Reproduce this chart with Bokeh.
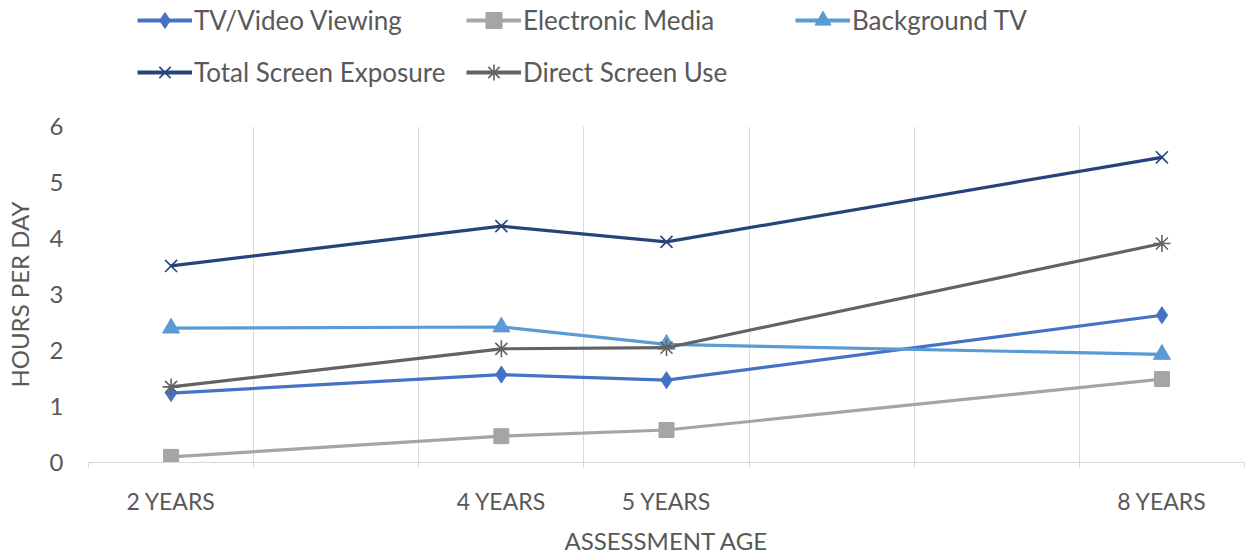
from bokeh.plotting import figure
from bokeh.models import (LinearAxis, FixedTicker, Grid, Legend, LegendItem, Range1d)
from bokeh.layouts import column
from bokeh.embed import file_html
from bokeh.resources import INLINE

# ---- data ----
ages = [2, 4, 5, 8]
age_labels = ["2 YEARS", "4 YEARS", "5 YEARS", "8 YEARS"]
tv_video = [1.24, 1.57, 1.47, 2.63]
electronic_media = [0.10, 0.47, 0.58, 1.49]
background_tv = [2.40, 2.42, 2.11, 1.93]
total_screen = [3.51, 4.22, 3.94, 5.45]
direct_screen = [1.35, 2.03, 2.05, 3.91]
y_ticks = [0, 1, 2, 3, 4, 5, 6]
grid_ticks = [1.5, 2.5, 3.5, 4.5, 5.5, 6.5, 7.5, 8.5]

series = [
    ("TV/Video Viewing", tv_video, "#4472C4", "diamond", 17, 1),
    ("Electronic Media", electronic_media, "#A5A5A5", "square", 15, 1),
    ("Background TV", background_tv, "#5B9BD5", "triangle", 17, 1),
    ("Total Screen Exposure", total_screen, "#264478", "x", 17, 1.6),
    ("Direct Screen Use", direct_screen, "#636363", "asterisk", 17, 1.6),
]

FONT = "Lato"
TXT = "#595959"
W = 1246
LEG_H = 110
MAIN_H = 557 - LEG_H
FRAME_LEFT = 88

# ---------------- main chart ----------------
p = figure(width=W, height=MAIN_H, output_backend="svg", toolbar_location=None,
           x_axis_type=None, y_axis_type=None,
           x_range=Range1d(1.5, 8.5), y_range=Range1d(0, 6),
           min_border_left=FRAME_LEFT, min_border_right=2, min_border_top=16,
           min_border_bottom=60)
p.outline_line_color = None
p.background_fill_color = "white"
p.border_fill_color = "white"

p.add_layout(Grid(dimension=0, ticker=FixedTicker(ticks=grid_ticks),
                  grid_line_color="#D9D9D9", grid_line_width=1))

ax1 = LinearAxis(ticker=FixedTicker(ticks=grid_ticks),
                 major_label_overrides={t: "" for t in grid_ticks},
                 major_label_text_font_size="0px", major_label_standoff=0,
                 axis_line_color="#D9D9D9", major_tick_line_color="#D9D9D9",
                 major_tick_out=5, major_tick_in=0, minor_tick_line_color=None)
p.add_layout(ax1, "below")

ax2 = LinearAxis(ticker=FixedTicker(ticks=ages),
                 major_label_overrides={a: l for a, l in zip(ages, age_labels)},
                 major_label_text_font=FONT, major_label_text_font_size="23px",
                 major_label_text_color=TXT, major_label_standoff=19,
                 axis_line_color=None, major_tick_line_color=None,
                 major_tick_out=0, major_tick_in=0,
                 minor_tick_line_color=None,
                 axis_label="ASSESSMENT AGE", axis_label_text_font=FONT,
                 axis_label_text_font_size="24px", axis_label_text_color=TXT,
                 axis_label_text_font_style="normal", axis_label_standoff=8)
p.add_layout(ax2, "below")

ay = LinearAxis(ticker=FixedTicker(ticks=y_ticks),
                major_label_text_font=FONT, major_label_text_font_size="24px",
                major_label_text_color=TXT, major_label_standoff=25,
                axis_line_color=None, major_tick_line_color=None,
                major_tick_out=0, major_tick_in=0,
                minor_tick_line_color=None,
                axis_label="HOURS PER DAY", axis_label_text_font=FONT,
                axis_label_text_font_size="24px", axis_label_text_color=TXT,
                axis_label_text_font_style="normal", axis_label_standoff=13)
p.add_layout(ay, "left")

for name, vals, color, marker, size, lw in series:
    p.line(ages, vals, line_color=color, line_width=3.2)
    p.scatter(ages, vals, marker=marker, size=size, fill_color=color,
              line_color=color, line_width=lw)

# ---------------- legend strip ----------------
lg = figure(width=W, height=LEG_H, output_backend="svg", toolbar_location=None,
            x_axis_type=None, y_axis_type=None,
            x_range=Range1d(0, 1), y_range=Range1d(0, 1),
            min_border=0, min_border_left=0, min_border_right=0,
            min_border_top=0, min_border_bottom=0)
lg.outline_line_color = None
lg.background_fill_color = "white"
lg.border_fill_color = "white"

# legend proxies sit outside the visible range, so only the legend shows them
items = []
for name, vals, color, marker, size, lw in series:
    r1 = lg.line([-5, -4], [-5, -5], line_color=color, line_width=4)
    r2 = lg.scatter([-5], [-5], marker=marker, size=size, fill_color=color,
                    line_color=color, line_width=lw)
    items.append(LegendItem(label=name, renderers=[r1, r2]))

col_groups = [[items[0], items[3]], [items[1], items[4]], [items[2]]]
col_x = [137, 466, 795]
for grp, x in zip(col_groups, col_x):
    leg = Legend(items=grp, orientation="vertical",
                 label_text_font=FONT, label_text_font_size="26px",
                 label_text_color=TXT, glyph_width=55, glyph_height=40,
                 label_height=40, label_standoff=2, spacing=12, padding=0,
                 border_line_color=None, background_fill_alpha=0,
                 location=(x - FRAME_LEFT,
                           LEG_H - (40 * len(grp) + 12 * (len(grp) - 1))),
                 margin=0)
    lg.add_layout(leg, "center")

layout = column(lg, p, spacing=0)
open("out.html", "w").write(file_html(layout, INLINE))
